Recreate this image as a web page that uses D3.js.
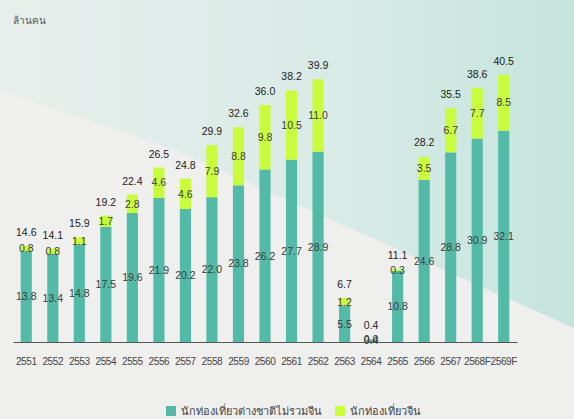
<!DOCTYPE html>
<html>
<head>
<meta charset="utf-8">
<script src="https://cdn.jsdelivr.net/npm/d3@7"></script>
<style>
  body { margin: 0; background: #efefee; }
  svg { display: block; font-family: "Liberation Sans", Arial, sans-serif; }
</style>
</head>
<body>
<div id="chart"></div>
<script>
let w = 574, h = 419;

// data
let years = ["2551","2552","2553","2554","2555","2556","2557","2558","2559","2560",
  "2561","2562","2563","2564","2565","2566","2567","2568F","2569F"];
let nonChinese = [13.8,13.4,14.8,17.5,19.6,21.9,20.2,22.0,23.8,26.2,27.7,28.9,5.5,0.4,10.8,24.6,28.8,30.9,32.1];
let chinese = [0.8,0.8,1.1,1.7,2.8,4.6,4.6,7.9,8.8,9.8,10.5,11.0,1.2,0.0,0.3,3.5,6.7,7.7,8.5];
let totals = [14.6,14.1,15.9,19.2,22.4,26.5,24.8,29.9,32.6,36.0,38.2,39.9,6.7,0.4,11.1,28.2,35.5,38.6,40.5];
let seriesNames = ["นักท่องเที่ยวต่างชาติไม่รวมจีน", "นักท่องเที่ยวจีน"];
let colors = ["#53baa7", "#c9fc3c"];

let svg = d3.select("#chart").append("svg")
  .attr("width", w)
  .attr("height", h);

// background
let defs = svg.append("defs");
let grad = defs.append("linearGradient").attr("id", "bgGrad")
  .attr("x1", "0%").attr("y1", "0%").attr("x2", "100%").attr("y2", "0%");
grad.append("stop").attr("offset", "0%").attr("stop-color", "#e8eeec");
grad.append("stop").attr("offset", "60%").attr("stop-color", "#d8ebe6");
grad.append("stop").attr("offset", "100%").attr("stop-color", "#c4e4dc");

svg.append("rect").attr("width", w).attr("height", h).attr("fill", "#efefee");
svg.append("polygon")
  .attr("points", "0,0 574,0 574,328 175,150 0,90")
  .attr("fill", "url(#bgGrad)");

let baseY = 342;
let x = d3.scaleBand().domain(years).range([13, 517]).paddingInner(0.58).paddingOuter(0.29);
let y = d3.scaleLinear().domain([0, 45]).range([baseY, 45.7]);

let rows = years.map((yr, i) => ({ year: yr, a: nonChinese[i], b: chinese[i], total: totals[i] }));
let stacked = d3.stack().keys(["a", "b"])(rows);

let layers = svg.selectAll(".layer").data(stacked).enter()
  .append("g").attr("class", "layer")
  .attr("fill", (d, i) => colors[i]);

layers.selectAll("rect").data(d => d).enter()
  .append("rect")
  .attr("x", d => x(d.data.year))
  .attr("width", x.bandwidth())
  .attr("y", d => y(d[1]))
  .attr("height", d => y(d[0]) - y(d[1]));

// segment labels
layers.selectAll("text").data(d => d).enter()
  .append("text")
  .attr("x", d => x(d.data.year) + x.bandwidth() / 2)
  .attr("y", d => (y(d[0]) + y(d[1])) / 2 + 3.8)
  .attr("text-anchor", "middle")
  .attr("font-size", 10.5)
  .attr("fill", "#3a3a3a")
  .text(d => (d[1] - d[0]).toFixed(1));

// total labels
svg.selectAll(".total").data(rows).enter()
  .append("text").attr("class", "total")
  .attr("x", d => x(d.year) + x.bandwidth() / 2)
  .attr("y", d => y(d.total) - 10)
  .attr("text-anchor", "middle")
  .attr("font-size", 10.5)
  .attr("fill", "#222")
  .text(d => d.total.toFixed(1));

// x axis
let xAxis = d3.axisBottom(x).tickSize(0).tickPadding(16);
let xAxisGroup = svg.append("g").attr("transform", "translate(0," + baseY + ")").call(xAxis);
xAxisGroup.select(".domain").attr("stroke", "#555").attr("stroke-width", 1.2);
xAxisGroup.selectAll("text").attr("font-size", 10).attr("fill", "#444")
  .attr("letter-spacing", -0.4)
  .attr("font-family", "Liberation Sans, Arial, sans-serif");

// unit label
svg.append("text")
  .attr("x", 13).attr("y", 24)
  .attr("font-size", 10).attr("fill", "#555")
  .text("ล้านคน");

// legend
let legendX = [166, 335];
let legend = svg.selectAll(".legend").data(seriesNames).enter()
  .append("g").attr("class", "legend")
  .attr("transform", (d, i) => "translate(" + legendX[i] + ",406)");
legend.append("rect").attr("width", 10).attr("height", 10).attr("fill", (d, i) => colors[i]);
legend.append("text").attr("x", 15).attr("y", 9)
  .attr("font-size", 11).attr("fill", "#444")
  .text(d => d);
</script>
</body>
</html>
